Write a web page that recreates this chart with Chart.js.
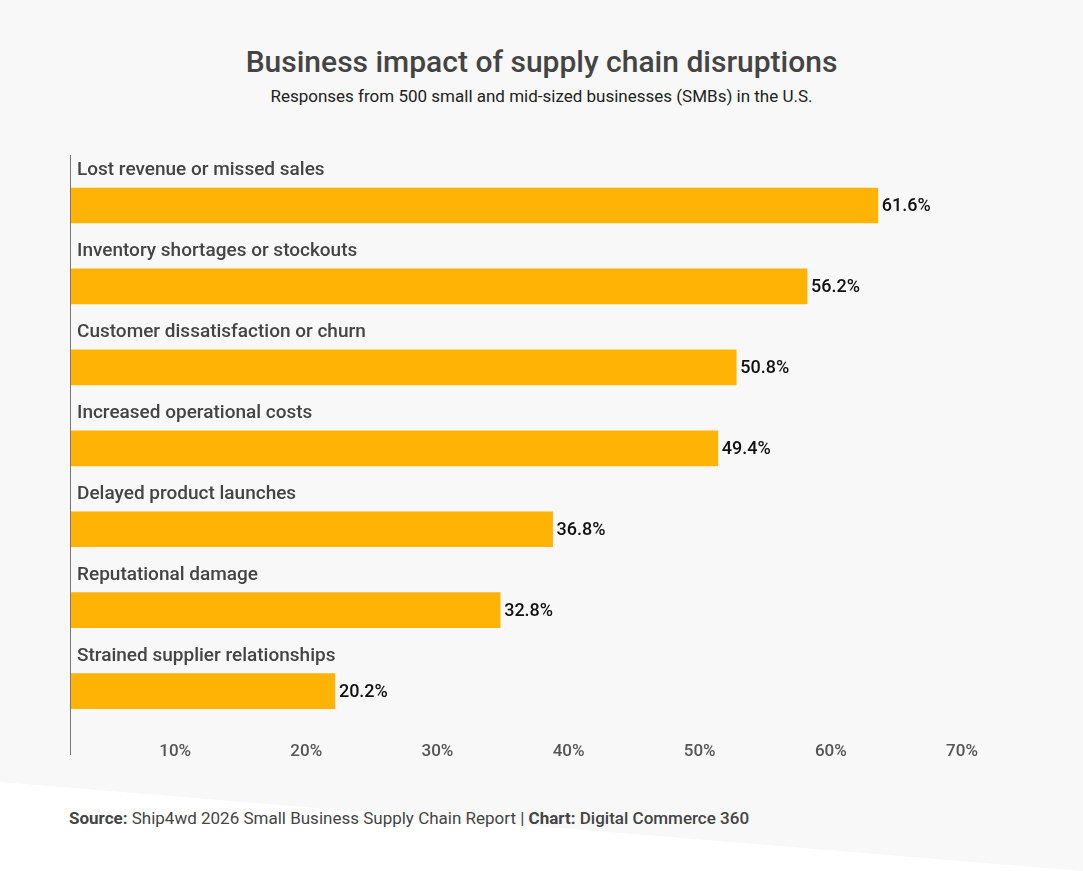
<!DOCTYPE html>
<html><head><meta charset="utf-8">
<script src="https://cdn.jsdelivr.net/npm/chart.js@4"></script>
<style>
body{margin:0;width:1083px;height:871px;background:#f8f8f8;font-family:Roboto,sans-serif;position:relative;overflow:hidden}
#wedge{position:absolute;left:0;top:0;width:1083px;height:871px;background:#fff;clip-path:polygon(0 782px,1083px 871px,0 871px)}
#title{position:absolute;top:44px;width:100%;text-align:center;font-size:30px;font-weight:500;color:#444}
#sub{position:absolute;top:86px;width:100%;text-align:center;font-size:17px;color:#222}
#src{position:absolute;top:808px;left:69px;font-size:17px;color:#444}
canvas{position:absolute;left:0;top:0}
</style></head><body>
<div id="wedge"></div>
<div id="title">Business impact of supply chain disruptions</div>
<div id="sub">Responses from 500 small and mid-sized businesses (SMBs) in the U.S.</div>
<div id="src"><b>Source:</b> Ship4wd 2026 Small Business Supply Chain Report | <b>Chart:</b> <span style="font-weight:500">Digital Commerce 360</span></div>
<canvas id="c" width="1083" height="871"></canvas>
<script>
const categories = ['Lost revenue or missed sales','Inventory shortages or stockouts','Customer dissatisfaction or churn','Increased operational costs','Delayed product launches','Reputational damage','Strained supplier relationships'];
const values = [61.6, 56.2, 50.8, 49.4, 36.8, 32.8, 20.2];
const xTicks = [10, 20, 30, 40, 50, 60, 70];

const labelsPlugin = {
  id: 'labels',
  afterDatasetsDraw(chart) {
    const ctx = chart.ctx;
    const meta = chart.getDatasetMeta(0);
    const a = chart.chartArea;
    ctx.save();
    ctx.strokeStyle = '#777'; ctx.lineWidth = 1;
    ctx.beginPath(); ctx.moveTo(a.left + 0.5, 155); ctx.lineTo(a.left + 0.5, 755); ctx.stroke();
    meta.data.forEach((bar, i) => {
      const top = bar.y - bar.height / 2;
      ctx.font = '500 19px Roboto'; ctx.fillStyle = '#444'; ctx.textBaseline = 'alphabetic'; ctx.textAlign = 'left';
      ctx.fillText(categories[i], a.left + 7, top - 13);
      ctx.font = '500 18px Roboto'; ctx.fillStyle = '#111'; ctx.textBaseline = 'middle';
      ctx.fillText(values[i].toFixed(1) + '%', bar.x + 4, bar.y + 1);
    });
    ctx.restore();
  }
};

new Chart(document.getElementById('c'), {
  type: 'bar',
  data: { labels: categories, datasets: [{ data: values, backgroundColor: '#FFB405', barThickness: 35 }] },
  options: {
    indexAxis: 'y', responsive: false, animation: false,
    layout: { padding: { left: 70, right: 95, top: 165, bottom: 107 } },
    plugins: { legend: { display: false }, tooltip: { enabled: false } },
    scales: {
      y: { display: false },
      x: {
        min: 0, max: 70,
        afterBuildTicks: s => { s.ticks = xTicks.map(v => ({ value: v })); },
        grid: { display: false }, border: { display: false },
        ticks: { callback: v => v + '%', color: '#555', font: { family: 'Roboto', size: 17, weight: '500' }, labelOffset: -26, padding: 2, maxRotation: 0 }
      }
    }
  },
  plugins: [labelsPlugin]
});
</script>
</body></html>
